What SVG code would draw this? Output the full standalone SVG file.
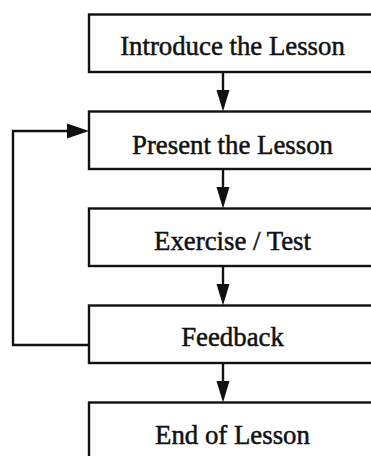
<svg xmlns="http://www.w3.org/2000/svg" width="371" height="456" viewBox="0 0 371 456">
<style>
.box{fill:#fff;stroke:#111;stroke-width:2.4}
.lbl{font-family:"Liberation Serif","Times New Roman",serif;font-size:26.8px;fill:#111;stroke:#111;stroke-width:0.5;text-anchor:middle}
.con{fill:none;stroke:#111;stroke-width:2.4}
.head{fill:#111}
</style>
<rect width="371" height="456" fill="#fff"/>
<g id="n1"><rect class="box" x="89" y="14.5" width="290" height="57.5"/><text class="lbl" x="232.5" y="55">Introduce the Lesson</text></g>
<g id="n2"><rect class="box" x="89" y="111.5" width="290" height="57.5"/><text class="lbl" x="232.5" y="153.5">Present the Lesson</text></g>
<g id="n3"><rect class="box" x="89" y="208.5" width="290" height="57.5"/><text class="lbl" x="232.5" y="250">Exercise / Test</text></g>
<g id="n4"><rect class="box" x="89" y="305.5" width="290" height="57.5"/><text class="lbl" x="232.5" y="346">Feedback</text></g>
<g id="n5"><rect class="box" x="89" y="402.5" width="290" height="57.5"/><text class="lbl" x="232.5" y="444">End of Lesson</text></g>
<g id="connectors">
<line class="con" x1="223" y1="72" x2="223" y2="92"/><polygon class="head" points="216.5,90 229.5,90 223,111.5"/>
<line class="con" x1="223" y1="169" x2="223" y2="189"/><polygon class="head" points="216.5,187 229.5,187 223,208.5"/>
<line class="con" x1="223" y1="266" x2="223" y2="286"/><polygon class="head" points="216.5,284 229.5,284 223,305.5"/>
<line class="con" x1="223" y1="363" x2="223" y2="383"/><polygon class="head" points="216.5,381 229.5,381 223,402.5"/>
<polyline class="con" points="89,345 13,345 13,131 70,131"/><polygon class="head" points="67,123.5 67,138.5 89,131"/>
</g>
</svg>
